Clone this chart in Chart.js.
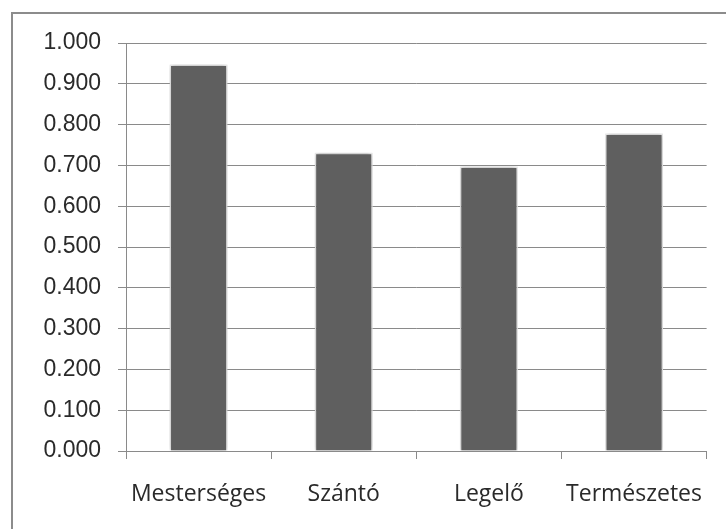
<!DOCTYPE html>
<html>
<head>
<meta charset="utf-8">
<script src="https://cdn.jsdelivr.net/npm/chart.js@4"></script>
<style>
  html, body { margin: 0; padding: 0; background: #fff; }
  #wrap { width: 726px; height: 529px; position: relative; }
</style>
</head>
<body>
<div id="wrap"><canvas id="myChart" width="726" height="529"></canvas></div>
<script>
// land use categories and their index values
var categories = ['Mesterséges', 'Szántó', 'Legelő', 'Természetes'];
var values = [0.947, 0.731, 0.697, 0.778];
var yTicks = [0, 0.1, 0.2, 0.3, 0.4, 0.5, 0.6, 0.7, 0.8, 0.9, 1.0];

var axisGray = '#8a8a8a';

// chart frame (only top and left edges fall inside the window)
var framePlugin = {
  id: 'frame',
  beforeDraw: function(chart) {
    var c = chart.ctx;
    c.save();
    c.strokeStyle = '#8c8c8c';
    c.lineWidth = 2;
    c.strokeRect(12, 13, 740, 560);
    c.restore();
  }
};

// soft glow round the bars
var glowPlugin = {
  id: 'glow',
  beforeDatasetsDraw: function(chart) {
    var c = chart.ctx;
    c.save();
    c.shadowColor = 'rgba(0,0,0,0.3)';
    c.shadowBlur = 5;
    c.shadowOffsetX = 0;
    c.shadowOffsetY = 0;
  },
  afterDatasetsDraw: function(chart) {
    chart.ctx.restore();
  }
};

var ctx = document.getElementById('myChart');
var myChart = new Chart(ctx, {
  type: 'bar',
  data: {
    labels: categories,
    datasets: [{
      data: values,
      backgroundColor: '#5f5f5f',
      borderColor: '#f0f0f0',
      borderWidth: 1.5,
      barPercentage: 0.4,
      categoryPercentage: 1.0
    }]
  },
  options: {
    responsive: false,
    animation: false,
    layout: { padding: { left: 0, right: 16, top: 43, bottom: 0 } },
    plugins: { legend: { display: false }, tooltip: { enabled: false } },
    scales: {
      y: {
        min: 0,
        max: 1,
        afterFit: function(scale) { scale.width = 126; },
        afterBuildTicks: function(scale) {
          scale.ticks = yTicks.map(function(v) { return { value: v }; });
        },
        ticks: {
          padding: 17,
          color: '#2a2a2a',
          font: { family: 'Liberation Sans', size: 23 },
          callback: function(v) { return Number(v).toFixed(3); }
        },
        grid: { color: axisGray, lineWidth: 1, tickLength: 8 },
        border: { color: axisGray, width: 1 }
      },
      x: {
        afterFit: function(scale) { scale.height = 529 - 451; },
        ticks: {
          padding: 22,
          color: '#2a2a2a',
          font: { family: 'Open Sans', size: 23 }
        },
        grid: { drawOnChartArea: false, color: axisGray, tickLength: 8, offset: true },
        border: { color: axisGray, width: 1 }
      }
    }
  },
  plugins: [framePlugin, glowPlugin]
});
</script>
</body>
</html>
